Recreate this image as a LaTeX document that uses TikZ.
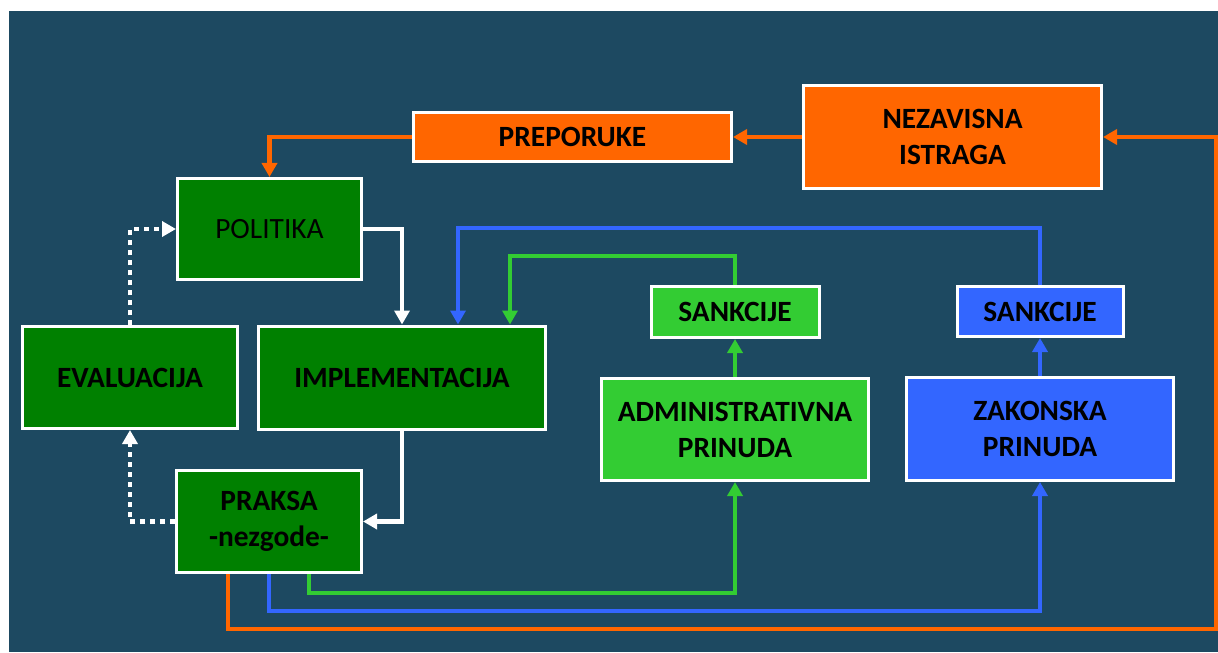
\documentclass[tikz,border=0pt]{standalone}
\usepackage{fontspec}
\setmainfont{Carlito}
\usetikzlibrary{positioning,arrows.meta}

\definecolor{bgblue}{RGB}{29,73,97}
\definecolor{orng}{HTML}{FF6600}
\definecolor{dgreen}{HTML}{008000}
\definecolor{lgreen}{HTML}{33CC33}
\definecolor{lblue}{HTML}{3366FF}

\begin{document}
\begin{tikzpicture}[x=0.5pt, y=-0.5pt, node distance=19pt,
                    box/.style={draw=white, line width=1.5pt, align=center, inner sep=0pt,
                                text=black, font=\fontsize{14.7}{18}\selectfont\bfseries},
                    orange node/.style={box, fill=orng},
                    green node/.style={box, fill=dgreen},
                    light node/.style={box, fill=lgreen},
                    blue node/.style={box, fill=lblue},
                    link/.style={line width=2.2pt, -{Triangle[length=7pt,width=7.5pt]}},
                    dotted link/.style={link, dash pattern=on 2.5pt off 2.5pt}]

\useasboundingbox (0,0) rectangle (1218,652);
\fill[white] (0,0) rectangle (1218,652);
\fill[bgblue] (9,11) rectangle (1218,652);

\node[orange node, minimum width=159pt, minimum height=24.5pt] (prep) at (572.5,137) {PREPORUKE};
  \node[orange node, minimum width=149pt, minimum height=51.5pt] (nez) at (952.5,137) {NEZAVISNA\\ISTRAGA};
\node[green node, minimum width=92pt, minimum height=50.5pt, font=\fontsize{14.7}{18}\selectfont] (pol) at (269.5,229) {POLITIKA};
  \node[green node, minimum width=107.5pt, minimum height=51pt] (eval) at (130,377.5) {EVALUACIJA};
    \node[green node, minimum width=143.5pt, minimum height=51.5pt] (impl) [right=9pt of eval] {IMPLEMENTACIJA};
  \node[green node, minimum width=92.5pt, minimum height=51pt] (pr) at (269,521.5) {PRAKSA\\-nezgode-};
\node[light node, minimum width=133.5pt, minimum height=51pt] (adm) at (735,429.5) {ADMINISTRATIVNA\\PRINUDA};
  \node[light node, minimum width=84pt, minimum height=25.5pt] (sanG) [above=of adm] {SANKCIJE};
\node[blue node, minimum width=133.5pt, minimum height=51.5pt] (zak) at (1040,429) {ZAKONSKA\\PRINUDA};
  \node[blue node, minimum width=83pt, minimum height=25pt] (sanB) [above=of zak] {SANKCIJE};

\coordinate (edge) at (1216,629);
\coordinate (gtop) at (510,256);
\coordinate (btop) at (458,228);

% orange loop
\draw[link, orng] (nez.west) -- (prep.east);
\draw[link, orng] (prep.west) -| (pol.north);
\draw[link, orng] ([xshift=-20.5pt]pr.south) |- (edge) |- (nez.east);

% policy cycle
\draw[link, white] (pol.east) -| (impl.north);
\draw[link, white] (impl.south) |- (pr.east);
\draw[dotted link, white] (pr.west) -| (eval.south);
\draw[dotted link, white] (eval.north) |- (pol.west);

% administrative
\draw[link, lgreen] ([xshift=20pt]pr.south) |- (adm.south |- 0,593) -- (adm.south);
\draw[link, lgreen] (adm.north) -- (adm.north |- sanG.south);
\draw[link, lgreen] (sanG.north) |- (gtop) -- (gtop |- impl.north);

% legal
\draw[link, lblue] (pr.south) |- (zak.south |- 0,611) -- (zak.south);
\draw[link, lblue] (zak.north) -- (sanB.south);
\draw[link, lblue] (sanB.north) |- (btop) -- (btop |- impl.north);

\end{tikzpicture}
\end{document}
